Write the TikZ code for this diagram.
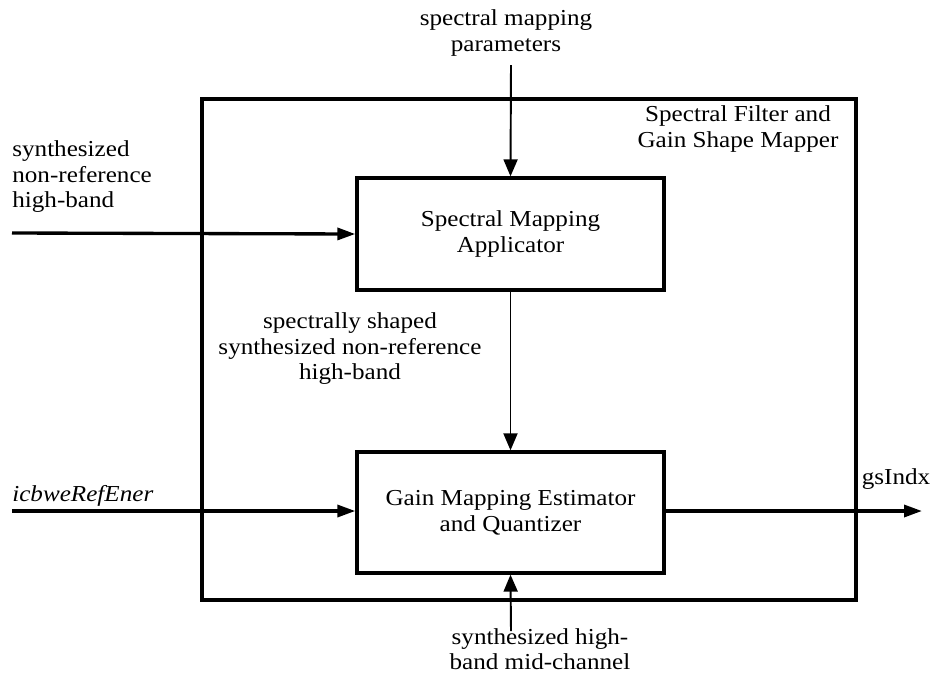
\documentclass[tikz,border=0pt]{standalone}
\usepackage{fontspec}
\setmainfont{Liberation Serif}[FakeStretch=1.1]
\usepackage{tikz}
\usetikzlibrary{arrows.meta,positioning}

\begin{document}
\begin{tikzpicture}[x=0.2mm,y=-0.2mm,>=Triangle,
  blk/.style={draw=black,line width=1.9pt,minimum width=6.14cm,minimum height=2.3cm,inner sep=0pt,align=center,font=\fontsize{13}{15}\selectfont},
  lbl/.style={inner sep=0pt,font=\fontsize{13}{14.5}\selectfont},
  thk/.style={line width=1.9pt,-{Triangle[length=3.6mm,width=2.4mm]}},
  thn/.style={line width=1.1pt,-{Triangle[length=3.4mm,width=2.8mm]}}]
\useasboundingbox (0,0) rectangle (939,673);
\node[draw=black,line width=1.9pt,minimum width=13.08cm,minimum height=10.02cm,inner sep=0pt] (sfgsm) at (529,349.5) {};
\node[blk,minimum height=2.24cm] (sma) at (510.5,234) {Spectral Mapping\\Applicator};
\node[blk,minimum height=2.42cm] (gme) at (510.5,512.5) {Gain Mapping Estimator\\and Quantizer};
\node[lbl,align=center] (smp) at (506,33) {spectral mapping\\parameters};
\node[lbl,align=center] (sfgsm_t) at (738,129) {Spectral Filter and\\Gain Shape Mapper};
\node[lbl,align=left,anchor=west] (snr) at (12,177) {synthesized\\non-reference\\high-band};
\node[lbl,align=center] (ssh) at (350,349) {spectrally shaped\\synthesized non-reference\\high-band};
\node[lbl,anchor=west] (ref) at (12,496) {\itshape icbweRefEner};
\node[lbl] (gsi) at (896,479) {gsIndx};
\node[lbl,align=center] (shb) at (540,649) {synthesized high-\\band mid-channel};
\coordinate (smp_in) at (511,65);
\coordinate (snr_in) at (12,233);
\coordinate (ref_in) at (12,511);
\coordinate (gsi_out) at (922,511);
\coordinate (shb_in) at (511,631);
\draw[thn] (smp_in) -- (sma.north);
\draw[thk] (snr_in) -- (sma.west);
\draw[thn] (sma.south) -- (gme.north);
\draw[thk] (ref_in) -- (ref_in -| gme.west);
\draw[thk] (gme.east |- gsi_out) -- (gsi_out);
\draw[thn] (shb_in) -- (gme.south);
\end{tikzpicture}
\end{document}
